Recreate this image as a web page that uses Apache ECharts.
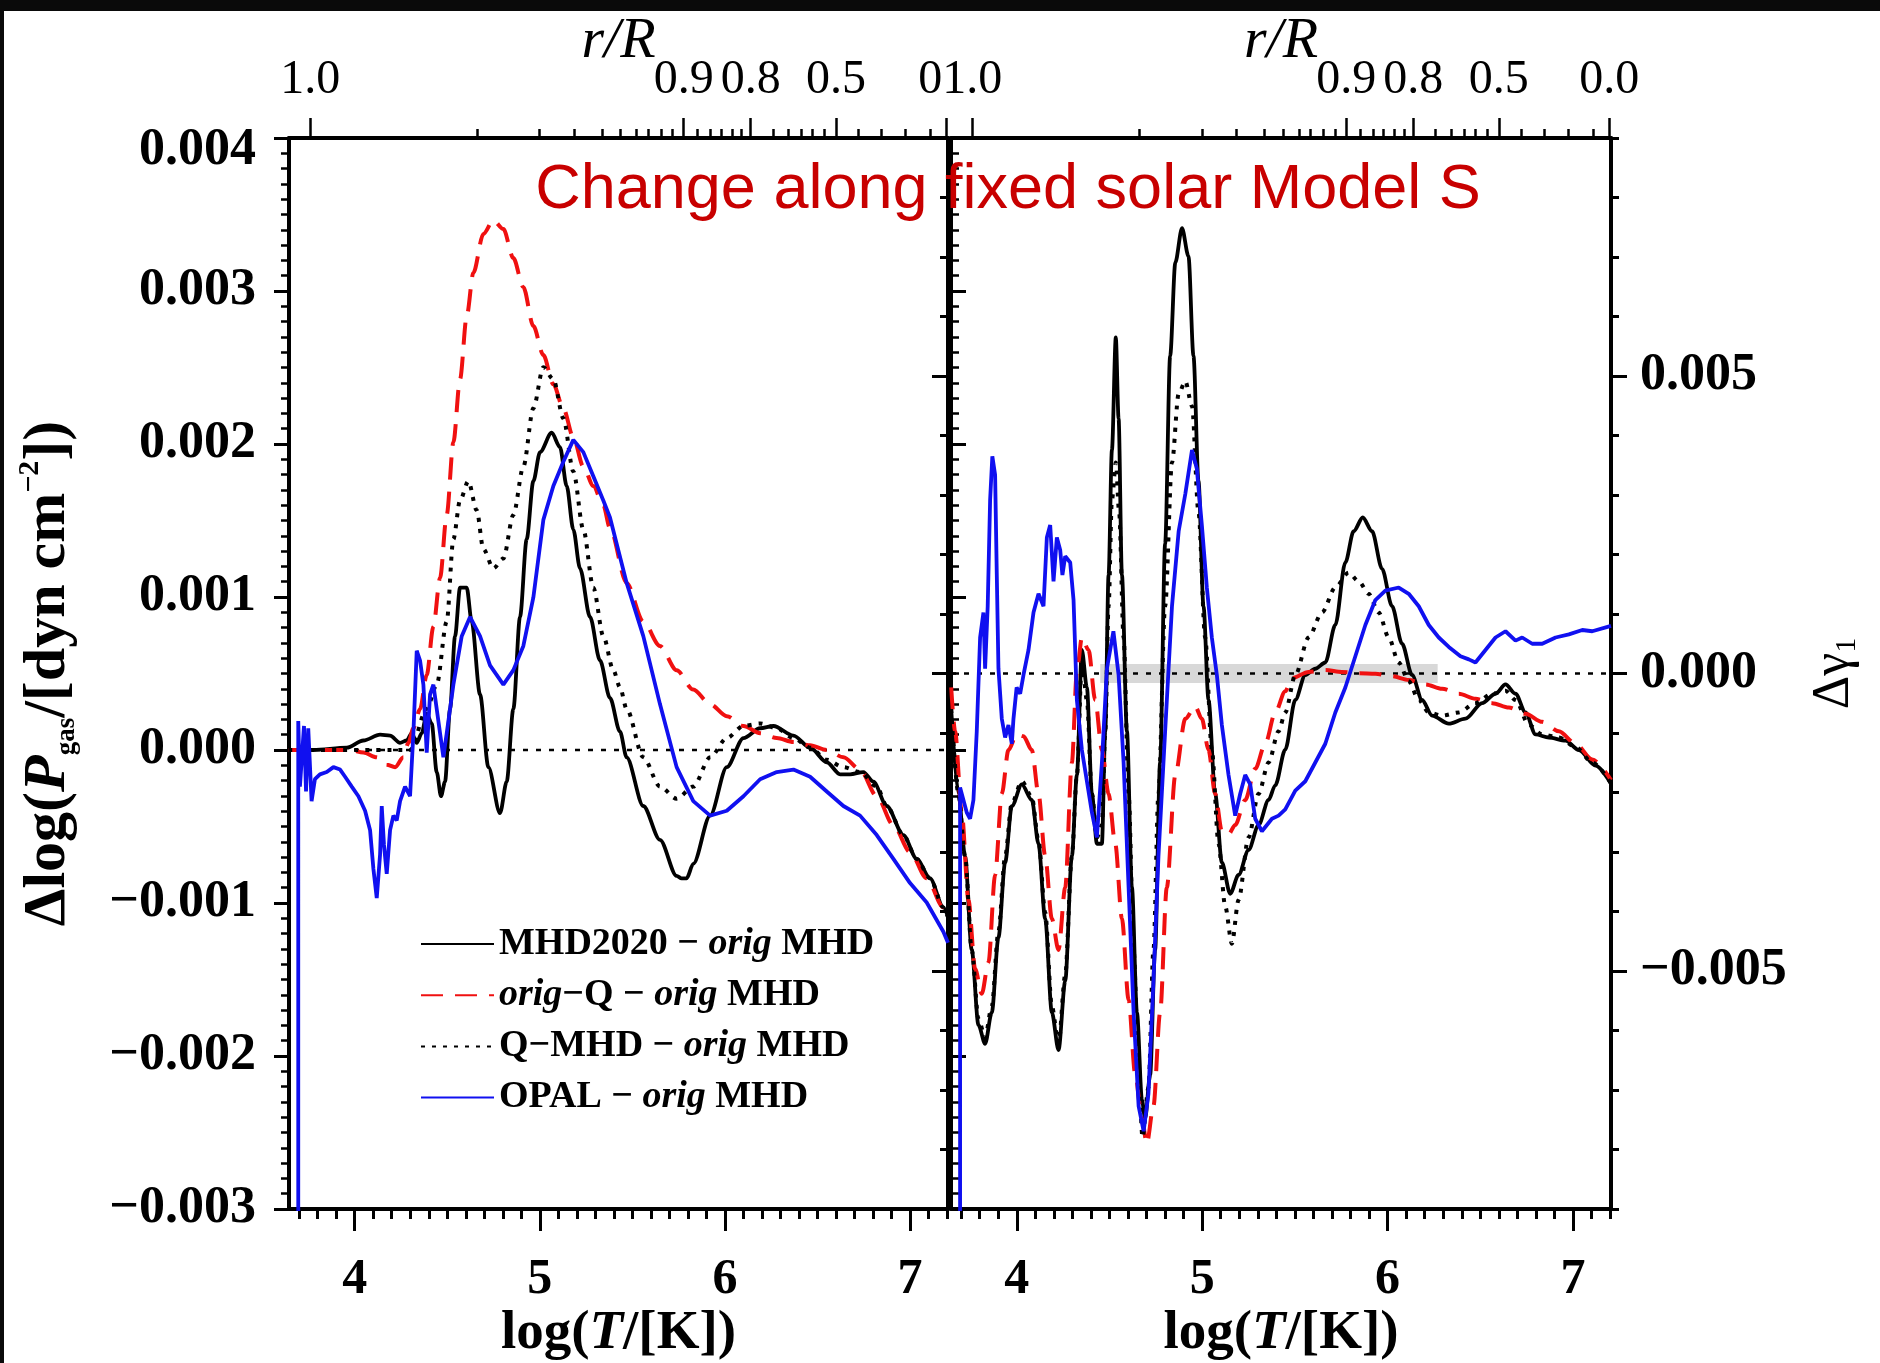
<!DOCTYPE html>
<html>
<head>
<meta charset="utf-8">
<script src="https://cdn.jsdelivr.net/npm/echarts@6/dist/echarts.min.js"></script>
<style>
  html, body { margin: 0; padding: 0; background: #ffffff; }
  #chart { width: 1880px; height: 1363px; }
</style>
</head>
<body>
<div id="chart"></div>
<script>
// ---- axis ranges and ticks ----
const T_MIN = 3.645, T_MAX = 7.205;                 // log(T/[K])
const P_MIN = -0.003, P_MAX = 0.004;                 // Δlog P_gas
const G_MIN = -0.009, G_MAX = 0.009;                 // Δγ1
const T_MAJOR = [4, 5, 6, 7];
const T_MINOR = [3.7, 3.8, 3.9, 4.1, 4.2, 4.3, 4.4, 4.5, 4.6, 4.7, 4.8, 4.9,
                 5.1, 5.2, 5.3, 5.4, 5.5, 5.6, 5.7, 5.8, 5.9,
                 6.1, 6.2, 6.3, 6.4, 6.5, 6.6, 6.7, 6.8, 6.9, 7.1, 7.2];
const GAMMA_MAJOR = [-0.005, 0, 0.005];
// r/R scale along the top (positions in log T of the model)
const R_MAJOR_POS = [3.76, 5.777, 6.139, 6.60, 7.195];
const R_LABELS_LEFT = ['1.0', '0.9', '0.8', '0.5', '0'];
const R_LABELS_RIGHT = ['1.0', '0.9', '0.8', '0.5', '0.0'];
const R_MINOR_POS = [4.662, 4.999, 5.184, 5.336, 5.437, 5.521, 5.585, 5.655, 5.715,
                     5.853, 5.922, 5.978, 6.038, 6.089,
                     6.259, 6.342, 6.411, 6.471, 6.536,
                     6.721, 6.846, 6.975, 7.109];
// shaded strip around Δγ1 = 0
const GREY_BAND = [[4.45, -0.00016], [6.27, 0.00016]];

const SERIES_NAMES = ['MHD2020 − orig MHD', 'orig−Q − orig MHD', 'Q−MHD − orig MHD', 'OPAL − orig MHD'];

// ---- left panel: Δlog(P_gas) vs log T ----
const leftMHD2020 = [[3.641,0],[3.776,0],[3.957,0.000015],[4.047,0.000062],[4.137,0.000100],[4.191,0.000094],[4.245,0.000047],[4.281,0.000062],[4.308,0.000110],[4.335,0.000047],[4.362,0.000110],[4.389,0.000237],[4.416,0.000173],[4.443,-0.000144],[4.466,-0.000302],[4.488,-0.000207],[4.515,0.000268],[4.542,0.000744],[4.569,0.001061],[4.605,0.001061],[4.632,0.000839],[4.677,0.000363],[4.722,-0.000112],[4.785,-0.000413],[4.821,-0.000207],[4.857,0.000268],[4.893,0.000870],[4.929,0.001378],[4.965,0.001757],[5.001,0.001947],[5.064,0.002074],[5.109,0.001979],[5.145,0.001726],[5.181,0.001441],[5.217,0.001187],[5.271,0.000870],[5.325,0.000585],[5.379,0.000340],[5.433,0.000120],[5.469,-0.000048],[5.559,-0.000366],[5.649,-0.000587],[5.739,-0.000823],[5.766,-0.000839],[5.793,-0.000839],[5.829,-0.000744],[5.920,-0.000429],[6.010,-0.000112],[6.100,0.000078],[6.190,0.000142],[6.262,0.000157],[6.370,0.000094],[6.460,0.000015],[6.550,-0.000080],[6.622,-0.000159],[6.676,-0.000159],[6.748,-0.000144],[6.802,-0.000207],[6.874,-0.000366],[6.964,-0.000556],[7.036,-0.000712],[7.108,-0.000839],[7.180,-0.001029],[7.205,-0.001093]];

const leftOrigQ = [[3.641,0],[3.975,0],[4.047,-0.000017],[4.119,-0.000048],[4.173,-0.000096],[4.218,-0.000112],[4.263,-0.000048],[4.290,0.000047],[4.317,0.000142],[4.353,0.000268],[4.389,0.000490],[4.425,0.000807],[4.461,0.001124],[4.497,0.001536],[4.533,0.002011],[4.569,0.002423],[4.605,0.002835],[4.641,0.003120],[4.695,0.003373],[4.749,0.003462],[4.803,0.003405],[4.857,0.003215],[4.911,0.003025],[4.965,0.002771],[5.019,0.002581],[5.073,0.002391],[5.127,0.002233],[5.181,0.002043],[5.235,0.001852],[5.289,0.001726],[5.343,0.001599],[5.379,0.001450],[5.469,0.001092],[5.559,0.000839],[5.649,0.000680],[5.739,0.000522],[5.829,0.000395],[5.920,0.000300],[6.010,0.000221],[6.100,0.000157],[6.190,0.000110],[6.280,0.000078],[6.370,0.000053],[6.460,0.000031],[6.550,0],[6.640,-0.000048],[6.730,-0.000128],[6.820,-0.000302],[6.910,-0.000492],[7.000,-0.000667],[7.090,-0.000839],[7.180,-0.001029],[7.205,-0.001093]];

const leftQMHD = [[3.641,0],[4.300,0],[4.389,0.000268],[4.443,0.000427],[4.497,0.000839],[4.533,0.001378],[4.569,0.001631],[4.614,0.001757],[4.659,0.001567],[4.695,0.001314],[4.749,0.001187],[4.803,0.001251],[4.857,0.001536],[4.911,0.001852],[4.965,0.002233],[5.019,0.002502],[5.073,0.002423],[5.127,0.002169],[5.181,0.001821],[5.235,0.001441],[5.289,0.001061],[5.343,0.000744],[5.397,0.000522],[5.433,0.000410],[5.469,0.000268],[5.559,-0.000048],[5.649,-0.000239],[5.739,-0.000318],[5.829,-0.000239],[5.920,-0.000048],[6.010,0.000078],[6.100,0.000157],[6.190,0.000173],[6.280,0.000142],[6.370,0.000078],[6.460,0.000015],[6.550,-0.000064],[6.640,-0.000112],[6.730,-0.000144],[6.820,-0.000239],[6.874,-0.000366],[6.964,-0.000556],[7.036,-0.000712],[7.108,-0.000839],[7.180,-0.001029],[7.205,-0.001093]];

const leftOPAL = [[3.695,-0.0032],[3.695,0.000189],[3.704,-0.000239],[3.726,0.000157],[3.737,-0.000271],[3.749,0.000142],[3.767,-0.000334],[3.785,-0.000191],[3.812,-0.000159],[3.849,-0.000144],[3.885,-0.000112],[3.921,-0.000128],[3.948,-0.000175],[3.984,-0.000239],[4.020,-0.000302],[4.056,-0.000397],[4.083,-0.000524],[4.101,-0.000778],[4.119,-0.000968],[4.137,-0.000683],[4.146,-0.000366],[4.158,-0.000619],[4.173,-0.000809],[4.191,-0.000524],[4.209,-0.000429],[4.227,-0.000461],[4.245,-0.000334],[4.272,-0.000239],[4.299,-0.000302],[4.317,0.000110],[4.335,0.000649],[4.353,0.000585],[4.371,0.000427],[4.389,-0.000017],[4.407,0.000363],[4.425,0.000427],[4.443,0.000268],[4.461,0.000110],[4.479,-0.000048],[4.497,0.000110],[4.533,0.000427],[4.578,0.000744],[4.623,0.000870],[4.677,0.000744],[4.731,0.000553],[4.803,0.000427],[4.857,0.000522],[4.911,0.000680],[4.965,0.000997],[5.019,0.001504],[5.073,0.001726],[5.127,0.001884],[5.181,0.002027],[5.235,0.001947],[5.289,0.001789],[5.343,0.001631],[5.379,0.001520],[5.469,0.001092],[5.559,0.000744],[5.649,0.000300],[5.739,-0.000112],[5.829,-0.000334],[5.920,-0.000429],[6.010,-0.000397],[6.100,-0.000302],[6.190,-0.000191],[6.280,-0.000144],[6.370,-0.000128],[6.460,-0.000175],[6.550,-0.000271],[6.640,-0.000366],[6.730,-0.000429],[6.820,-0.000556],[6.910,-0.000712],[7.000,-0.000870],[7.090,-0.000997],[7.180,-0.001188],[7.205,-0.001260]];

// ---- right panel: Δγ1 vs log T ----
const rightMHD2020 = [[3.646,-0.00060],[3.685,-0.002021],[3.721,-0.003071],[3.757,-0.004647],[3.793,-0.005908],[3.829,-0.006223],[3.865,-0.005697],[3.901,-0.004437],[3.937,-0.003176],[3.973,-0.002231],[4.027,-0.001863],[4.081,-0.002126],[4.117,-0.002861],[4.153,-0.004122],[4.189,-0.005697],[4.225,-0.006328],[4.261,-0.005172],[4.297,-0.003071],[4.324,-0.001706],[4.351,0.000395],[4.378,-0.000235],[4.405,-0.002021],[4.432,-0.002861],[4.459,-0.002861],[4.477,-0.000971],[4.495,0.001655],[4.513,0.003756],[4.534,0.005647],[4.549,0.004282],[4.567,0.001655],[4.594,-0.000971],[4.621,-0.003596],[4.648,-0.005697],[4.675,-0.007168],[4.692,-0.007483],[4.719,-0.006748],[4.746,-0.004647],[4.773,-0.001496],[4.800,0.002181],[4.827,0.005332],[4.855,0.006908],[4.891,0.007485],[4.926,0.007013],[4.953,0.005332],[4.980,0.003231],[5.007,0.001130],[5.034,-0.000445],[5.070,-0.002021],[5.106,-0.003176],[5.151,-0.003702],[5.196,-0.003386],[5.250,-0.002966],[5.304,-0.002546],[5.358,-0.002126],[5.394,-0.001880],[5.448,-0.001280],[5.502,-0.000445],[5.556,-0.000025],[5.610,0.000080],[5.664,0.000185],[5.718,0.000815],[5.772,0.001866],[5.817,0.002391],[5.866,0.002622],[5.916,0.002391],[5.970,0.001760],[6.024,0.001130],[6.078,0.000500],[6.132,-0.000025],[6.186,-0.000445],[6.240,-0.000708],[6.330,-0.000844],[6.420,-0.000760],[6.510,-0.000498],[6.582,-0.000340],[6.636,-0.000183],[6.690,-0.000340],[6.744,-0.000655],[6.798,-0.001023],[6.870,-0.001076],[6.960,-0.001128],[7.032,-0.001286],[7.122,-0.001549],[7.205,-0.001850]];

const rightOrigQ = [[3.646,-0.000235],[3.667,-0.000971],[3.703,-0.002336],[3.739,-0.003807],[3.775,-0.004962],[3.811,-0.005382],[3.847,-0.004857],[3.883,-0.003386],[3.919,-0.002021],[3.955,-0.001286],[3.999,-0.001023],[4.036,-0.001055],[4.081,-0.001286],[4.117,-0.002021],[4.153,-0.003071],[4.189,-0.004122],[4.225,-0.004647],[4.261,-0.003596],[4.297,-0.001496],[4.324,0.000027],[4.351,0.000605],[4.387,0.000395],[4.423,-0.000445],[4.459,-0.001286],[4.495,-0.002021],[4.531,-0.002861],[4.567,-0.004122],[4.603,-0.005487],[4.639,-0.006748],[4.675,-0.007483],[4.701,-0.007903],[4.737,-0.007273],[4.773,-0.005697],[4.809,-0.003596],[4.855,-0.001706],[4.909,-0.000760],[4.962,-0.000550],[4.998,-0.000760],[5.034,-0.001286],[5.070,-0.002021],[5.106,-0.002651],[5.142,-0.002704],[5.178,-0.002546],[5.232,-0.002126],[5.286,-0.001601],[5.340,-0.001181],[5.394,-0.000655],[5.448,-0.000300],[5.484,-0.000078],[5.574,0.000027],[5.664,0.000059],[5.754,0.000027],[5.844,0.000006],[5.934,-0.000004],[6.024,-0.000046],[6.114,-0.000109],[6.204,-0.000183],[6.294,-0.000256],[6.384,-0.000340],[6.474,-0.000424],[6.564,-0.000498],[6.654,-0.000571],[6.744,-0.000676],[6.834,-0.000813],[6.924,-0.000971],[7.014,-0.001181],[7.104,-0.001444],[7.205,-0.001790]];

const rightQMHD = [[3.646,-0.00060],[3.685,-0.002021],[3.721,-0.003071],[3.757,-0.004647],[3.793,-0.005803],[3.829,-0.006118],[3.865,-0.005592],[3.901,-0.004332],[3.937,-0.003071],[3.973,-0.002178],[4.027,-0.001811],[4.081,-0.002073],[4.117,-0.002809],[4.153,-0.004017],[4.189,-0.005592],[4.225,-0.006223],[4.261,-0.005067],[4.297,-0.003071],[4.324,-0.001706],[4.351,0.000185],[4.378,-0.000445],[4.405,-0.002021],[4.432,-0.002756],[4.459,-0.002546],[4.477,-0.000971],[4.495,0.001130],[4.513,0.002916],[4.534,0.003546],[4.552,0.002706],[4.576,0.000605],[4.603,-0.002021],[4.630,-0.004647],[4.657,-0.006748],[4.678,-0.007798],[4.710,-0.006958],[4.737,-0.004647],[4.764,-0.002021],[4.800,0.001130],[4.837,0.003546],[4.873,0.004702],[4.909,0.004912],[4.945,0.004492],[4.980,0.002706],[5.016,0.000605],[5.052,-0.001286],[5.088,-0.002861],[5.124,-0.003912],[5.160,-0.004542],[5.196,-0.003807],[5.250,-0.002756],[5.304,-0.002021],[5.358,-0.001496],[5.412,-0.000971],[5.448,-0.000655],[5.502,-0.000025],[5.574,0.000605],[5.646,0.001025],[5.718,0.001445],[5.790,0.001697],[5.844,0.001550],[5.898,0.001340],[5.952,0.001025],[6.006,0.000605],[6.060,0.000185],[6.114,-0.000130],[6.168,-0.000445],[6.222,-0.000655],[6.294,-0.000708],[6.384,-0.000655],[6.474,-0.000498],[6.564,-0.000340],[6.636,-0.000288],[6.690,-0.000445],[6.762,-0.000865],[6.834,-0.001023],[6.924,-0.001076],[7.014,-0.001234],[7.104,-0.001496],[7.205,-0.001850]];

const rightOPAL = [[3.694,-0.0095],[3.694,-0.001916],[3.712,-0.002126],[3.730,-0.002336],[3.748,-0.002441],[3.766,-0.002126],[3.784,-0.000971],[3.802,0.000605],[3.820,0.001025],[3.829,0.000080],[3.843,0.001130],[3.856,0.002916],[3.868,0.003651],[3.883,0.003336],[3.892,0.001655],[3.901,0.000080],[3.919,-0.000760],[3.937,-0.001076],[3.955,-0.000865],[3.973,-0.001181],[3.982,-0.000760],[3.999,-0.000235],[4.018,-0.000340],[4.036,-0.000025],[4.063,0.000395],[4.090,0.001025],[4.117,0.001340],[4.144,0.001130],[4.162,0.002286],[4.180,0.002496],[4.198,0.001550],[4.216,0.002286],[4.234,0.002076],[4.246,0.001655],[4.261,0.001971],[4.288,0.001866],[4.306,0.001235],[4.324,-0.000445],[4.351,-0.001286],[4.378,-0.001811],[4.405,-0.002336],[4.432,-0.002756],[4.459,-0.001496],[4.486,0.000080],[4.521,0.000710],[4.549,-0.000025],[4.576,-0.001496],[4.603,-0.003596],[4.630,-0.005697],[4.657,-0.007273],[4.684,-0.007693],[4.710,-0.007063],[4.737,-0.005172],[4.764,-0.003071],[4.800,-0.000971],[4.837,0.001130],[4.873,0.002391],[4.909,0.003021],[4.945,0.003756],[4.971,0.003441],[4.998,0.002496],[5.025,0.001445],[5.052,0.000605],[5.079,-0.000025],[5.106,-0.000865],[5.142,-0.001706],[5.178,-0.002389],[5.205,-0.002021],[5.232,-0.001706],[5.259,-0.001863],[5.286,-0.002441],[5.322,-0.002651],[5.376,-0.002441],[5.412,-0.002389],[5.448,-0.002284],[5.502,-0.001969],[5.556,-0.001811],[5.610,-0.001496],[5.664,-0.001181],[5.718,-0.000655],[5.772,-0.000235],[5.826,0.000290],[5.880,0.000815],[5.934,0.001235],[5.988,0.001393],[6.060,0.001445],[6.114,0.001340],[6.168,0.001130],[6.222,0.000815],[6.276,0.000605],[6.330,0.000447],[6.393,0.000290],[6.438,0.000237],[6.474,0.000185],[6.528,0.000395],[6.582,0.000605],[6.636,0.000710],[6.690,0.000552],[6.726,0.000605],[6.780,0.000500],[6.834,0.000500],[6.906,0.000605],[6.978,0.000657],[7.050,0.000731],[7.104,0.000710],[7.205,0.000800]];

// ---- styling ----
const SERIF = '"Liberation Serif", "Times New Roman", serif';
const LINE_STYLES = [
  { color: '#000000', width: 3.8, type: 'solid' },
  { color: '#f01010', width: 4, type: [22, 12] },
  { color: '#000000', width: 4, type: [4, 7] },
  { color: '#1010f0', width: 3.8, type: 'solid' }
];
const AXIS_LINE = { show: true, onZero: false, lineStyle: { color: '#000', width: 4 } };
const TICK_LINE = { color: '#000', width: 3 };

function numLabel(v) {
  const s = Math.abs(v).toFixed(3);
  return v < -1e-9 ? '−' + s : s;
}
function rLabel(labels, v) {
  let best = 0;
  R_MAJOR_POS.forEach((p, i) => { if (Math.abs(p - v) < Math.abs(R_MAJOR_POS[best] - v)) best = i; });
  return labels[best];
}

function xAxesFor(gridIndex, topLabels, leftPanel) {
  const base = { type: 'value', gridIndex, min: T_MIN, max: T_MAX, splitLine: { show: false } };
  return [
    Object.assign({}, base, {
      position: 'bottom',
      axisLine: AXIS_LINE,
      axisTick: { show: true, inside: false, length: 22, customValues: T_MAJOR, lineStyle: TICK_LINE },
      axisLabel: { show: true, customValues: T_MAJOR, margin: 46, formatter: v => String(Math.round(v)),
                   fontFamily: SERIF, fontWeight: 'bold', fontSize: 50, color: '#000' },
      name: '{b|log(}{i|T}{b|/[K])}',
      nameLocation: 'middle', nameGap: 95, nameMoveOverlap: false,
      nameTextStyle: { rich: {
        b: { fontFamily: SERIF, fontWeight: 'bold', fontSize: 55, lineHeight: 60, color: '#000' },
        i: { fontFamily: SERIF, fontWeight: 'bold', fontStyle: 'italic', fontSize: 55, lineHeight: 60, color: '#000' }
      } }
    }),
    Object.assign({}, base, {
      position: 'bottom',
      axisLine: { show: false, onZero: false },
      axisTick: { show: true, inside: false, length: 10, customValues: T_MINOR, lineStyle: TICK_LINE },
      axisLabel: { show: false }
    }),
    Object.assign({}, base, {
      position: 'top',
      axisLine: AXIS_LINE,
      axisTick: { show: true, inside: false, length: 20, customValues: R_MAJOR_POS, lineStyle: { color: '#000', width: 2.5 } },
      axisLabel: { show: true, customValues: R_MAJOR_POS, margin: 34,
        formatter: v => {
          const t = rLabel(topLabels, v);
          return (leftPanel && t === '0') ? '{e|0}' : t;
        },
        fontFamily: SERIF, fontSize: 48, color: '#000',
        rich: { e: { fontFamily: SERIF, fontSize: 48, color: '#000', padding: [0, 32, 0, 0] } } },
      name: 'r/R', nameLocation: 'middle', nameGap: 66, nameMoveOverlap: false,
      nameTextStyle: { fontFamily: SERIF, fontStyle: 'italic', fontSize: 58, lineHeight: 60, color: '#000' }
    }),
    Object.assign({}, base, {
      position: 'top',
      axisLine: { show: false, onZero: false },
      axisTick: { show: true, inside: false, length: 9, customValues: R_MINOR_POS, lineStyle: { color: '#000', width: 2.5 } },
      axisLabel: { show: false }
    })
  ];
}

const yAxes = [
  // left panel, left side: Δlog P_gas with labels
  {
    type: 'value', gridIndex: 0, position: 'left', min: P_MIN, max: P_MAX, interval: 0.001,
    axisLine: AXIS_LINE,
    axisTick: { show: true, inside: false, length: 15, lineStyle: TICK_LINE },
    minorTick: { show: true, splitNumber: 10, length: 8, lineStyle: { color: '#000', width: 2.5 } },
    axisLabel: {
      formatter: v => (Math.abs(v - P_MAX) < 1e-9 ? '{t|' + numLabel(v) + '}' : numLabel(v)),
      margin: 33, fontFamily: SERIF, fontWeight: 'bold', fontSize: 52, color: '#000',
      rich: { t: { fontFamily: SERIF, fontWeight: 'bold', fontSize: 52, color: '#000', padding: [26, 0, 0, 0] } }
    },
    splitLine: { show: false }, minorSplitLine: { show: false },
    name: '{b|Δlog(}{i|P}{sub|gas}{b|/[dyn cm}{sup|−2}{b|])}',
    nameLocation: 'middle', nameRotate: 90, nameGap: 208, nameMoveOverlap: false,
    nameTextStyle: { rich: {
      b: { fontFamily: SERIF, fontWeight: 'bold', fontSize: 60, lineHeight: 66, color: '#000' },
      i: { fontFamily: SERIF, fontWeight: 'bold', fontStyle: 'italic', fontSize: 60, lineHeight: 66, color: '#000' },
      sub: { fontFamily: SERIF, fontWeight: 'bold', fontSize: 27, lineHeight: 27, verticalAlign: 'bottom', color: '#000' },
      sup: { fontFamily: SERIF, fontWeight: 'bold', fontSize: 30, lineHeight: 30, verticalAlign: 'top', color: '#000' }
    } }
  },
  // left panel, right side: Δγ1 ticks pointing inward
  {
    type: 'value', gridIndex: 0, position: 'right', min: G_MIN, max: G_MAX, interval: 0.001,
    axisLine: AXIS_LINE,
    axisTick: { show: true, inside: true, length: 8, lineStyle: TICK_LINE },
    axisLabel: { show: false }, splitLine: { show: false }
  },
  {
    type: 'value', gridIndex: 0, position: 'right', min: G_MIN, max: G_MAX,
    axisLine: { show: false, onZero: false },
    axisTick: { show: true, inside: true, length: 16, customValues: GAMMA_MAJOR, lineStyle: TICK_LINE },
    axisLabel: { show: false }, splitLine: { show: false }
  },
  // right panel, right side: Δγ1 with labels
  {
    type: 'value', gridIndex: 1, position: 'right', min: G_MIN, max: G_MAX,
    axisLine: AXIS_LINE,
    axisTick: { show: true, inside: false, length: 16, customValues: GAMMA_MAJOR, lineStyle: TICK_LINE },
    axisLabel: { show: true, customValues: GAMMA_MAJOR, formatter: numLabel, margin: 29,
                 fontFamily: SERIF, fontWeight: 'bold', fontSize: 52, color: '#000' },
    splitLine: { show: false },
    name: '{n|Δγ}{s|1}', nameLocation: 'middle', nameRotate: 90, nameGap: 195, nameMoveOverlap: false,
    nameTextStyle: { rich: {
      n: { fontFamily: SERIF, fontSize: 52, lineHeight: 56, color: '#000' },
      s: { fontFamily: SERIF, fontSize: 30, lineHeight: 30, verticalAlign: 'bottom', color: '#000' }
    } }
  },
  {
    type: 'value', gridIndex: 1, position: 'right', min: G_MIN, max: G_MAX, interval: 0.001,
    axisLine: { show: false, onZero: false },
    axisTick: { show: true, inside: false, length: 8, lineStyle: TICK_LINE },
    axisLabel: { show: false }, splitLine: { show: false }
  },
  // right panel, left side: Δlog P_gas ticks pointing inward
  {
    type: 'value', gridIndex: 1, position: 'left', min: P_MIN, max: P_MAX, interval: 0.001,
    axisLine: AXIS_LINE,
    axisTick: { show: true, inside: true, length: 15, lineStyle: TICK_LINE },
    minorTick: { show: true, splitNumber: 10, length: 8, lineStyle: { color: '#000', width: 2.5 } },
    axisLabel: { show: false }, splitLine: { show: false }, minorSplitLine: { show: false }
  }
];

function curve(name, data, styleIdx, xi, yi) {
  return {
    type: 'line', name, data, xAxisIndex: xi, yAxisIndex: yi,
    symbol: 'none', showSymbol: false, smooth: styleIdx === 3 ? false : 0.3,
    smoothMonotone: 'x', lineStyle: LINE_STYLES[styleIdx], itemStyle: { color: LINE_STYLES[styleIdx].color },
    silent: true, animation: false, z: 3, emphasis: { disabled: true }
  };
}
function zeroLine(xi, yi) {
  return {
    type: 'line', data: [[T_MIN, 0], [T_MAX, 0]], xAxisIndex: xi, yAxisIndex: yi,
    symbol: 'none', lineStyle: { color: '#000', width: 2.5, type: [5, 8] },
    silent: true, z: 2, emphasis: { disabled: true }
  };
}

const series = [
  {
    type: 'line', data: GREY_BAND, xAxisIndex: 4, yAxisIndex: 3, symbol: 'none',
    lineStyle: { opacity: 0 }, silent: true, z: 1,
    markArea: { silent: true, itemStyle: { color: '#d8d8d8' },
      data: [[{ coord: GREY_BAND[0] }, { coord: GREY_BAND[1] }]] }
  },
  zeroLine(0, 0),
  zeroLine(4, 3),
  curve(SERIES_NAMES[0], leftMHD2020, 0, 0, 0),
  curve(SERIES_NAMES[1], leftOrigQ, 1, 0, 0),
  curve(SERIES_NAMES[2], leftQMHD, 2, 0, 0),
  curve(SERIES_NAMES[3], leftOPAL, 3, 0, 0),
  curve(SERIES_NAMES[0], rightMHD2020, 0, 4, 3),
  curve(SERIES_NAMES[1], rightOrigQ, 1, 4, 3),
  curve(SERIES_NAMES[2], rightQMHD, 2, 4, 3),
  curve(SERIES_NAMES[3], rightOPAL, 3, 4, 3)
];

const chart = echarts.init(document.getElementById('chart'), null, { renderer: 'canvas' });
chart.setOption({
  animation: false,
  backgroundColor: '#ffffff',
  grid: [
    { left: 289, top: 138, width: 659, height: 1071, outerBoundsMode: 'none', containLabel: false },
    { left: 951, top: 138, width: 660, height: 1071, outerBoundsMode: 'none', containLabel: false }
  ],
  xAxis: xAxesFor(0, R_LABELS_LEFT, true).concat(xAxesFor(1, R_LABELS_RIGHT, false)),
  yAxis: yAxes,
  legend: {
    data: SERIES_NAMES, orient: 'vertical', left: 415, top: 920,
    itemWidth: 73, itemHeight: 30, itemGap: 13.2, selectedMode: false,
    itemStyle: { opacity: 0, borderWidth: 0 },
    formatter: n => n.replace(/orig/g, '{i|orig}'),
    textStyle: {
      fontFamily: SERIF, fontWeight: 'bold', fontSize: 38, lineHeight: 30, color: '#000',
      rich: { i: { fontFamily: SERIF, fontWeight: 'bold', fontStyle: 'italic', fontSize: 38, lineHeight: 30, color: '#000' } }
    }
  },
  graphic: [
    { type: 'rect', shape: { x: 0, y: 0, width: 1880, height: 11 }, style: { fill: '#0a0a0a' }, silent: true, z: 100 },
    { type: 'rect', shape: { x: 0, y: 0, width: 4, height: 1363 }, style: { fill: '#0a0a0a' }, silent: true, z: 100 },
    { type: 'text', x: 1008, y: 191, z: 100, silent: true,
      style: { text: 'Change along fixed solar Model S', fill: '#c80000',
               font: '63px "Liberation Sans", Arial, sans-serif',
               align: 'center', verticalAlign: 'middle', textAlign: 'center', textVerticalAlign: 'middle' } }
  ],
  series
});
</script>
</body>
</html>
